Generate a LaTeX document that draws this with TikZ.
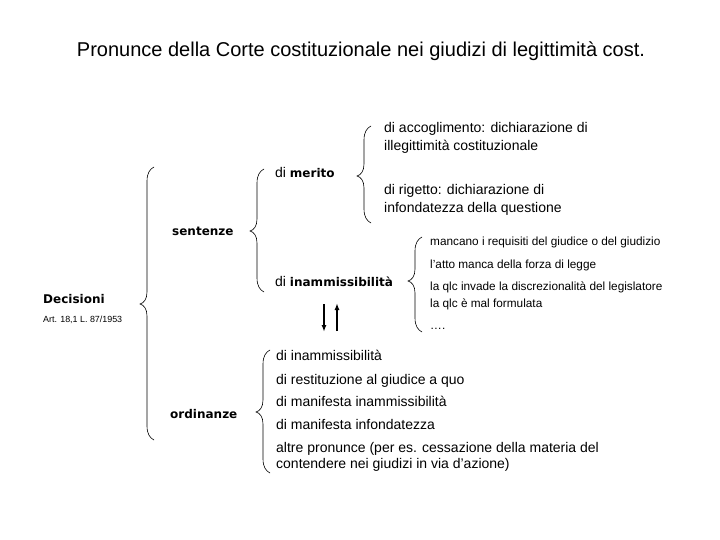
\documentclass[tikz,border=0pt]{standalone}
\usepackage{fontspec}
\setmainfont{Liberation Sans}
\newfontfamily\bfdv{DejaVu Sans Bold}
\usetikzlibrary{arrows.meta}
\begin{document}
\begin{tikzpicture}[x=1pt,y=-1pt,
  txt/.style={anchor=base west,inner sep=0pt,font=\fontsize{14}{16}\selectfont},
  small/.style={anchor=base west,inner sep=0pt,font=\fontsize{11.8}{13}\selectfont},
  lbl/.style={anchor=base west,inner sep=0pt,font=\fontsize{12}{15}\bfdv},
  brc/.style={line width=0.6pt},
  arr/.style={line width=1.5pt,-{Latex[length=7pt,width=5pt]}}]
\useasboundingbox (0,0) rectangle (720,540);
\newcommand\mybrc[4]{% x, top, tip, bottom
  \draw[brc] (#1+7,#2) .. controls (#1+3,#2+2) and (#1,#2+6) .. (#1,#2+14)
    -- (#1,#3-12) .. controls (#1,#3-5) and (#1-3,#3-1) .. (#1-7,#3)
    .. controls (#1-3,#3+1) and (#1,#3+5) .. (#1,#3+12)
    -- (#1,#4-14) .. controls (#1,#4-6) and (#1+3,#4-2) .. (#1+7,#4);}
% title
\node[anchor=base,inner sep=0pt,font=\fontsize{20}{24}\selectfont] (title) at (361,57) {Pronunce della Corte costituzionale nei giudizi di legittimità cost.};
% braces
\mybrc{147}{167}{304}{440}
\mybrc{257}{169}{231}{292}
\mybrc{364}{126}{176}{223}
\mybrc{415}{237}{281}{332}
\mybrc{263}{350}{412}{473}
% left
\node[lbl] (dec) at (43,303) {Decisioni};
\node[anchor=base west,inner sep=0pt,font=\fontsize{8.9}{10}\selectfont] (art) at (43,322) {Art. 18,1 L. 87/1953};
\node[lbl] (sent) at (172,236) {sentenze};
\node[lbl] (ord) at (170,418) {ordinanze};
% merito branch
\node[txt] (mer) at (275,178) {di {\bfdv\fontsize{12}{15}\selectfont merito}};
\node[txt] (acc) at (384,133) {di accoglimento: dichiarazione di};
\node[txt] (acc2) at (384,151) {illegittimità costituzionale};
\node[txt] (rig) at (384,195) {di rigetto: dichiarazione di};
\node[txt] (rig2) at (384,213) {infondatezza della questione};
% inammissibilita branch
\node[txt] (inam) at (275,286) {di {\bfdv\fontsize{12}{15}\selectfont inammissibilità}};
\node[small] (r1) at (430,245) {mancano i requisiti del giudice o del giudizio};
\node[small] (r2) at (430,268) {l'atto manca della forza di legge};
\node[small] (r3) at (430,290) {la qlc invade la discrezionalità del legislatore};
\node[small] (r4) at (430,307) {la qlc è mal formulata};
\node[small] (r5) at (430,329) {….};
% arrows
\coordinate (a1t) at (324,304);
\coordinate (a1b) at (324,332);
\coordinate (a2t) at (337,303);
\coordinate (a2b) at (337,331);
\draw[arr] (a1t) -- (a1b);
\draw[arr] (a2b) -- (a2t);
% ordinanze
\node[txt] (o1) at (276,360) {di inammissibilità};
\node[txt] (o2) at (276,384) {di restituzione al giudice a quo};
\node[txt] (o3) at (276,406) {di manifesta inammissibilità};
\node[txt] (o4) at (276,429) {di manifesta infondatezza};
\node[txt] (o5) at (276,452) {altre pronunce (per es. cessazione della materia del};
\node[txt] (o6) at (276,468) {contendere nei giudizi in via d'azione)};
\end{tikzpicture}
\end{document}
